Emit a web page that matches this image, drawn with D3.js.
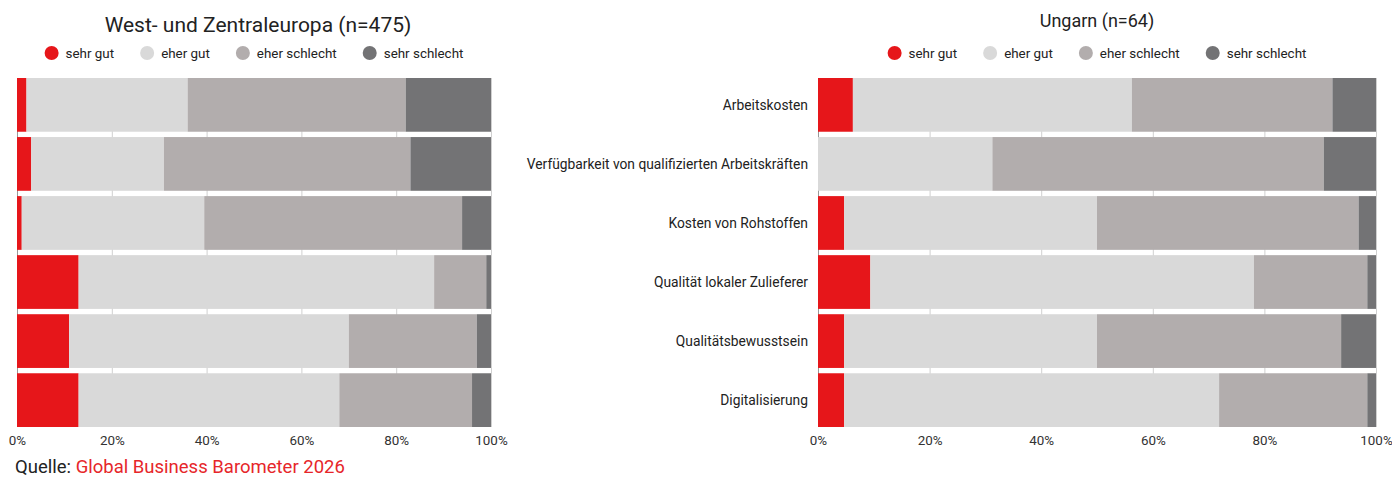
<!DOCTYPE html>
<html>
<head>
<meta charset="utf-8">
<script src="https://cdn.jsdelivr.net/npm/d3@7"></script>
<style>
  body { margin: 0; background: #fff; }
  svg text { font-family: Roboto, "DejaVu Sans", sans-serif; fill: #222; }
  .tick text { fill: #333; }
</style>
</head>
<body>
<div id="chart"></div>
<script>
// DATA
const categories = ['Arbeitskosten',
                    'Verfügbarkeit von qualifizierten Arbeitskräften',
                    'Kosten von Rohstoffen',
                    'Qualität lokaler Zulieferer',
                    'Qualitätsbewusstsein',
                    'Digitalisierung']
const seriesNames = ['sehr gut', 'eher gut', 'eher schlecht', 'sehr schlecht']
const seriesColors = ['#E6161A', '#D9D9D9', '#B2ADAD', '#737375']
// percent per category, in series order
const westValues = [[2, 34, 46, 18],
                    [3, 28, 52, 17],
                    [1, 38.5, 54.4, 6.1],
                    [13, 75, 11, 1],
                    [11, 59, 27, 3],
                    [13, 55, 28, 4]]
const ungarnValues = [[6.25, 50, 35.94, 7.81],
                      [0, 31.25, 59.38, 9.37],
                      [4.69, 45.31, 46.88, 3.12],
                      [9.38, 68.75, 20.31, 1.56],
                      [4.69, 45.31, 43.75, 6.25],
                      [4.69, 67.19, 26.56, 1.56]]
const tickValues = [0, 20, 40, 60, 80, 100]

//MARGIN / LAYOUT
const WIDTH = 1392, HEIGHT = 480
const PLOT = {TOP: 78, BOTTOM: 427}
const PANELS = [
  {title: 'West- und Zentraleuropa (n=475)', values: westValues, left: 17, right: 491, titleSize: 21, titleY: 32, labels: false},
  {title: 'Ungarn (n=64)', values: ungarnValues, left: 818, right: 1376, titleSize: 18, titleY: 27, labels: true}
]
const LABEL_SIZE = '13.8px'
const LEGEND_SIZE = '13.4px'

const svg = d3.select('#chart').append('svg')
    .attr('width', WIDTH)
    .attr('height', HEIGHT)

const yScale = d3.scaleBand()
    .domain(categories)
    .range([PLOT.TOP, PLOT.BOTTOM])
    .paddingInner(0.09)
    .paddingOuter(0)

const colour = d3.scaleOrdinal().domain(seriesNames).range(seriesColors)

PANELS.forEach(p => drawPanel(p))

function drawPanel(p) {
  const g = svg.append('g')
  const xScale = d3.scaleLinear().domain([0, 100]).range([p.left, p.right])
  const centre = (p.left + p.right) / 2

  // title
  g.append('text')
    .attr('x', centre + (p.labels ? 0 : 4))
    .attr('y', p.titleY)
    .attr('text-anchor', 'middle')
    .style('font-size', p.titleSize + 'px')
    .text(p.title)

  drawLegend(g, centre, 53)

  // grid behind bars
  g.selectAll('.grid').data(tickValues).join('line')
    .attr('class', 'grid')
    .attr('x1', d => xScale(d) + 0.5).attr('x2', d => xScale(d) + 0.5)
    .attr('y1', PLOT.TOP).attr('y2', PLOT.BOTTOM)
    .attr('stroke', (d, i) => i == 0 ? '#999' : '#d0d0d0')
    .attr('stroke-width', 1)

  // stacked bars
  const rows = categories.map((c, i) => {
    const r = {category: c}
    seriesNames.forEach((s, j) => r[s] = p.values[i][j])
    return r
  })
  const stacked = d3.stack().keys(seriesNames)(rows)

  g.selectAll('.series').data(stacked).join('g')
    .attr('class', 'series')
    .attr('fill', d => colour(d.key))
    .selectAll('rect').data(d => d).join('rect')
      .attr('x', d => xScale(d[0]))
      .attr('width', d => Math.max(0, xScale(d[1]) - xScale(d[0])))
      .attr('y', d => yScale(d.data.category))
      .attr('height', yScale.bandwidth())

  // x axis
  const gAxis = g.append('g')
    .attr('transform', `translate(0, ${PLOT.BOTTOM})`)
    .call(d3.axisBottom(xScale).tickValues(tickValues).tickSize(0).tickPadding(8).tickFormat(d => d + '%'))
  gAxis.select('.domain').remove()
  gAxis.selectAll('text').style('font-size', '13.4px').attr('fill', '#333')

  // category labels
  if (p.labels) {
    g.selectAll('.cat').data(categories).join('text')
      .attr('class', 'cat')
      .attr('x', p.left - 10)
      .attr('y', d => yScale(d) + yScale.bandwidth() / 2)
      .attr('dy', '0.35em')
      .attr('text-anchor', 'end')
      .style('font-size', LABEL_SIZE)
      .text(d => d)
  }
}

function drawLegend(g, centre, y) {
  const R = 7, GAP = 7, SPACE = 26
  const lg = g.append('g')
  const items = lg.selectAll('g').data(seriesNames).join('g')
  items.append('circle').attr('r', R).attr('cy', 0).attr('cx', R).attr('fill', d => colour(d))
  items.append('text').attr('x', 2 * R + GAP).attr('dy', '0.35em')
    .style('font-size', LEGEND_SIZE).text(d => d)
  let x = 0
  items.each(function() {
    const w = 2 * R + GAP + d3.select(this).select('text').node().getComputedTextLength()
    d3.select(this).attr('transform', `translate(${x}, 0)`)
    x += w + SPACE
  })
  const total = x - SPACE
  lg.attr('transform', `translate(${centre - total / 2}, ${y})`)
}

// SOURCE
const source = svg.append('text').attr('x', 15).attr('y', 473).style('font-size', '18.5px')
source.append('tspan').text('Quelle: ')
source.append('tspan').style('fill', '#E6262A').text('Global Business Barometer 2026')
</script>
</body>
</html>
